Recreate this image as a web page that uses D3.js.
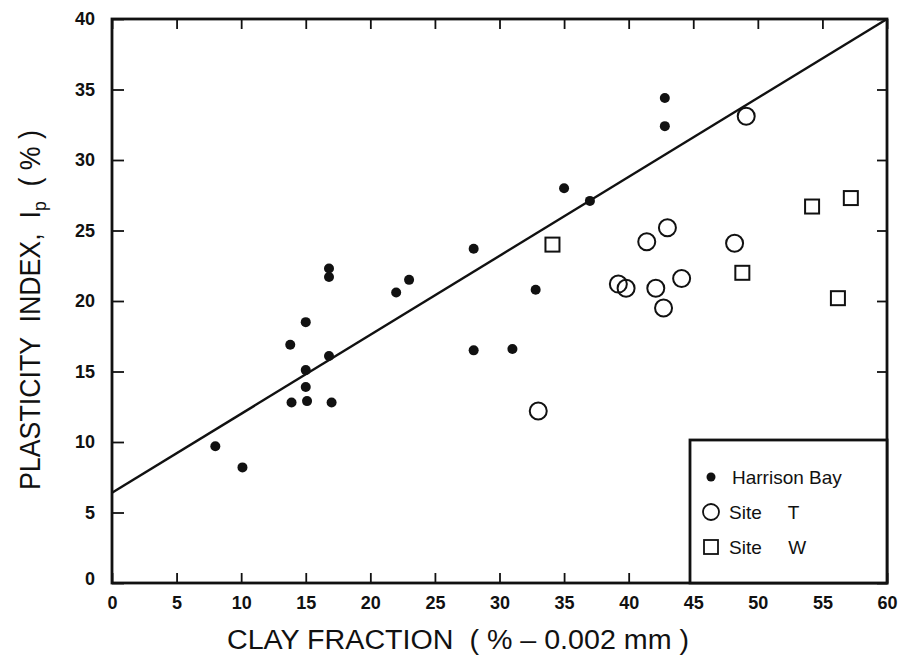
<!DOCTYPE html>
<html>
<head>
<meta charset="utf-8">
<script src="https://cdn.jsdelivr.net/npm/d3@7"></script>
<style>
  body { margin: 0; background: #fff; }
  svg text { font-family: "Liberation Sans", Arial, sans-serif; fill: #111; }
</style>
</head>
<body>
<div id="container"></div>
<script>
// clay fraction (%) / plasticity index (%)
const harrisonClay = [8, 10.1, 13.8, 15, 16.8, 15, 15, 13.9, 15.1, 17, 28, 31, 16.8, 16.8, 22, 23, 28, 32.8, 42.8, 42.8, 35, 37]
const harrisonPI   = [9.7, 8.2, 16.9, 18.5, 16.1, 15.1, 13.9, 12.8, 12.9, 12.8, 16.5, 16.6, 22.3, 21.7, 20.6, 21.5, 23.7, 20.8, 34.4, 32.4, 28, 27.1]

const siteTClay = [33, 39.2, 39.8, 41.4, 42.1, 42.7, 43, 44.1, 48.2, 49.1]
const siteTPI   = [12.2, 21.2, 20.9, 24.2, 20.9, 19.5, 25.2, 21.6, 24.1, 33.1]

const siteWClay = [34.1, 48.8, 54.2, 56.2, 57.2]
const siteWPI   = [24, 22, 26.7, 20.2, 27.3]

// regression line end points
const fitClay = [0, 60]
const fitPI   = [6.4, 40]

const xTicks = [0, 5, 10, 15, 20, 25, 30, 35, 40, 45, 50, 55, 60]
const yTicks = [0, 5, 10, 15, 20, 25, 30, 35, 40]

const legendLabels = ["Harrison Bay", "Site     T", "Site     W"]

const container = d3.select("#container")

function drawChart() {
    const width = 901
    const height = 663
    const margin = {top: 19, right: 14, bottom: 80, left: 112}
    const innerWidth = width - margin.left - margin.right
    const innerHeight = height - margin.top - margin.bottom

    container.selectAll("*").remove()

    const svg = container.append("svg")
                         .attr("width", width)
                         .attr("height", height)

    const chart = svg.append("g")
                     .attr("transform", `translate(${margin.left}, ${margin.top})`)

    // scales
    const xScale = d3.scaleLinear().domain([0, 60]).range([0, innerWidth])
    const yScale = d3.scaleLinear().domain([0, 40]).range([innerHeight, 0])

    // axes, ticks pointing inward
    const xAxis = d3.axisBottom(xScale).tickValues(xTicks).tickSize(-10).tickPadding(13)
    const yAxis = d3.axisLeft(yScale).tickValues(yTicks).tickSize(-12).tickPadding(17)

    const gx = chart.append("g")
         .attr("transform", `translate(0, ${innerHeight})`)
         .call(xAxis)
    const gy = chart.append("g")
         .call(yAxis)
    chart.append("g")
         .call(d3.axisTop(xScale).tickValues(xTicks).tickSize(-10).tickFormat(""))
    chart.append("g")
         .attr("transform", `translate(${innerWidth}, 0)`)
         .call(d3.axisRight(yScale).tickValues(yTicks).tickSize(-10).tickFormat(""))

    chart.selectAll(".domain").remove()
    chart.selectAll(".tick line").attr("stroke", "#111").attr("stroke-width", 1.8)
    gx.selectAll("text").attr("font-size", "18px").attr("font-weight", "bold").attr("fill", "#111")
    gy.selectAll("text").attr("font-size", "18px").attr("font-weight", "bold").attr("fill", "#111")
    gy.selectAll(".tick").filter(d => d === 0).select("text").attr("dy", "0.1em")

    // frame
    chart.append("rect")
         .attr("width", innerWidth)
         .attr("height", innerHeight)
         .attr("fill", "none")
         .attr("stroke", "#111")
         .attr("stroke-width", 2.8)

    // regression line
    const line = d3.line().x(d => xScale(d[0])).y(d => yScale(d[1]))
    chart.append("path")
         .datum(d3.zip(fitClay, fitPI))
         .attr("d", line)
         .attr("fill", "none")
         .attr("stroke", "#111")
         .attr("stroke-width", 2.4)

    // site T - open circles
    chart.selectAll(".siteT")
         .data(d3.zip(siteTClay, siteTPI))
         .join("circle")
         .attr("class", "siteT")
         .attr("cx", d => xScale(d[0]))
         .attr("cy", d => yScale(d[1]))
         .attr("r", 8.5)
         .attr("fill", "none")
         .attr("stroke", "#111")
         .attr("stroke-width", 2)

    // site W - open squares
    const sq = 14
    chart.selectAll(".siteW")
         .data(d3.zip(siteWClay, siteWPI))
         .join("rect")
         .attr("class", "siteW")
         .attr("x", d => xScale(d[0]) - sq / 2)
         .attr("y", d => yScale(d[1]) - sq / 2)
         .attr("width", sq)
         .attr("height", sq)
         .attr("fill", "none")
         .attr("stroke", "#111")
         .attr("stroke-width", 2)

    // Harrison Bay - dots
    chart.selectAll(".harrison")
         .data(d3.zip(harrisonClay, harrisonPI))
         .join("circle")
         .attr("class", "harrison")
         .attr("cx", d => xScale(d[0]))
         .attr("cy", d => yScale(d[1]))
         .attr("r", 5)
         .attr("fill", "#111")

    // legend box
    const lx = 578, ly = 421
    const legend = chart.append("g").attr("transform", `translate(${lx}, ${ly})`)
    legend.append("rect")
          .attr("width", innerWidth - lx)
          .attr("height", innerHeight - ly)
          .attr("fill", "#fff")
          .attr("stroke", "#111")
          .attr("stroke-width", 2.8)

    const rowY = d => 37 + d * 35
    legend.append("circle").attr("cx", 21).attr("cy", rowY(0)).attr("r", 4.5).attr("fill", "#111")
    legend.append("circle").attr("cx", 21).attr("cy", rowY(1)).attr("r", 8)
          .attr("fill", "none").attr("stroke", "#111").attr("stroke-width", 1.8)
    legend.append("rect").attr("x", 14).attr("y", rowY(2) - 7).attr("width", 14).attr("height", 14)
          .attr("fill", "none").attr("stroke", "#111").attr("stroke-width", 1.8)

    legend.selectAll(".legend-label")
          .data(legendLabels)
          .join("text")
          .attr("class", "legend-label")
          .attr("x", (d, i) => i === 0 ? 42 : 39)
          .attr("y", (d, i) => rowY(i))
          .attr("dy", "0.36em")
          .attr("font-size", "19px")
          .style("white-space", "pre")
          .text(d => d)

    // axis titles
    svg.append("text")
       .attr("x", 458)
       .attr("y", 649)
       .attr("text-anchor", "middle")
       .attr("font-size", "27px")
       .attr("textLength", 462)
       .attr("lengthAdjust", "spacingAndGlyphs")
       .style("white-space", "pre")
       .text("CLAY FRACTION  ( % \u2013 0.002 mm )")

    const yTitle = svg.append("text")
       .attr("transform", "translate(40, 310) rotate(-90)")
       .attr("text-anchor", "middle")
       .attr("font-size", "29px")
       .attr("textLength", 360)
       .attr("lengthAdjust", "spacingAndGlyphs")
       .style("white-space", "pre")
    yTitle.append("tspan").text("PLASTICITY  INDEX,  I")
    yTitle.append("tspan").attr("font-size", "19px").attr("dy", "0.3em").text("p")
    yTitle.append("tspan").attr("dy", "-0.2em").text("  ( % )")
}

drawChart()
</script>
</body>
</html>
